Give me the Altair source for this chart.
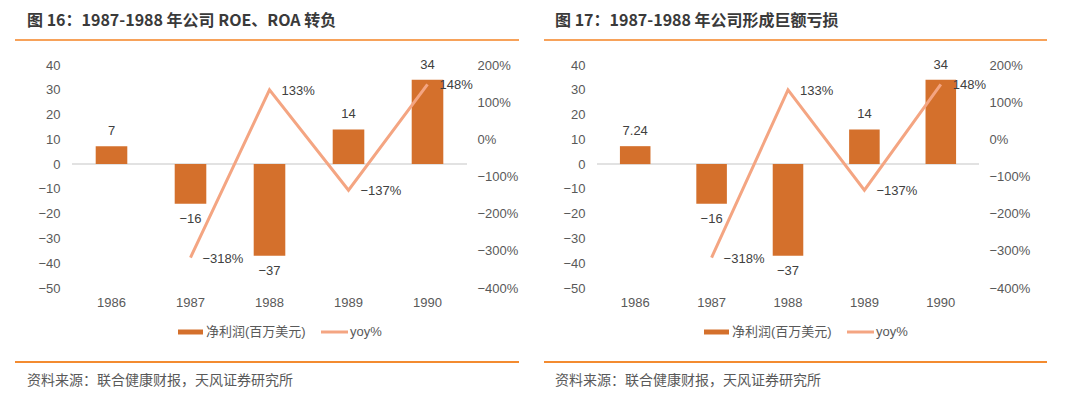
import altair as alt
import pandas as pd

# ---------------- data ----------------
YEARS = ["1986", "1987", "1988", "1989", "1990"]
PROFIT = [7.24, -16, -37, 14, 34]                 # 净利润(百万美元)
YOY_YEARS = ["1987", "1988", "1989", "1990"]
YOY = [-3.18, 1.33, -1.37, 1.48]                   # yoy%
TITLES = ["图 16：1987-1988 年公司 ROE、ROA 转负", "图 17：1987-1988 年公司形成巨额亏损"]
SOURCE = "资料来源：联合健康财报，天风证券研究所"
LEGEND_LABELS = ["净利润(百万美元)", "yoy%"]
LEFT_TICKS = [-50, -40, -30, -20, -10, 0, 10, 20, 30, 40]
RIGHT_TICKS = [-4, -3, -2, -1, 0, 1, 2]
BAR_LABEL_FORMATS = [".0f", "~g"]

BAR_COLOR = "#D4702C"
LINE_COLOR = "#F4A582"
TEXT_COLOR = "#404040"
AXIS_COLOR = "#595959"
NUM_FONT = "Liberation Sans, Noto Sans CJK SC"
CJK_FONT = "Noto Sans CJK SC"


def panel(idx, width, height, title_x, rule_x1, rule_x2, legend_x):
    bars_df = pd.DataFrame({"year": YEARS, "profit": PROFIT})
    yoy_df = pd.DataFrame({"year": YOY_YEARS, "yoy": YOY})

    x_scale = alt.Scale(domain=YEARS, paddingInner=0.6, paddingOuter=0.3)
    x_axis = alt.Axis(labelAngle=0, labelPadding=8, title=None)
    yl_scale = alt.Scale(domain=[-50, 40], nice=False, zero=False)
    yl_axis = alt.Axis(values=LEFT_TICKS, format="d", labelPadding=12, title=None)
    yr_scale = alt.Scale(domain=[-4, 2], nice=False, zero=False)
    yr_axis = alt.Axis(orient="right", values=RIGHT_TICKS, format=".0%",
                       labelPadding=10, title=None)

    def X():
        return alt.X("year:N", sort=YEARS, scale=x_scale, axis=x_axis)

    base_bar = alt.Chart(bars_df)
    zero_rule = base_bar.transform_filter("datum.year == '1986'").transform_calculate(
        z="0"
    ).mark_rule(color="#D9D9D9", strokeWidth=1.5).encode(
        y=alt.Y("z:Q", scale=yl_scale, axis=yl_axis)
    )
    bars = base_bar.mark_bar(color=BAR_COLOR).encode(
        x=X(),
        y=alt.Y("profit:Q", scale=yl_scale, axis=yl_axis),
    )
    pos_text = base_bar.transform_filter("datum.profit >= 0").mark_text(
        baseline="middle", dy=-15, font=NUM_FONT, fontSize=13, color=TEXT_COLOR
    ).encode(
        x=X(),
        y=alt.Y("profit:Q", scale=yl_scale, axis=yl_axis),
        text=alt.Text("profit:Q", format=BAR_LABEL_FORMATS[idx]),
    )
    neg_text = base_bar.transform_filter("datum.profit < 0").mark_text(
        baseline="middle", dy=15, font=NUM_FONT, fontSize=13, color=TEXT_COLOR
    ).encode(
        x=X(),
        y=alt.Y("profit:Q", scale=yl_scale, axis=yl_axis),
        text=alt.Text("profit:Q", format=BAR_LABEL_FORMATS[idx]),
    )
    bar_layer = alt.layer(zero_rule, bars, pos_text, neg_text)

    base_line = alt.Chart(yoy_df)
    line = base_line.mark_line(color=LINE_COLOR, strokeWidth=3).encode(
        x=X(),
        y=alt.Y("yoy:Q", scale=yr_scale, axis=yr_axis),
    )
    line_text = base_line.mark_text(
        align="left", baseline="middle", dx=12, dy=1, font=NUM_FONT, fontSize=13, color=TEXT_COLOR
    ).encode(
        x=X(),
        y=alt.Y("yoy:Q", scale=yr_scale, axis=yr_axis),
        text=alt.Text("yoy:Q", format=".0%"),
    )
    line_layer = alt.layer(line, line_text)

    one = pd.DataFrame({"t": [TITLES[idx]]})
    title = alt.Chart(one).mark_text(
        align="left", baseline="middle", font=CJK_FONT, fontSize=16, fontWeight="bold", color="#3A3A3A"
    ).encode(x=alt.value(title_x), y=alt.value(-44), text="t:N")
    top_rule = alt.Chart(one).mark_rule(color="#F7A25A", strokeWidth=2).encode(
        x=alt.value(rule_x1), x2=alt.value(rule_x2), y=alt.value(-25)
    )
    bottom_rule = alt.Chart(one).mark_rule(color="#F38B30", strokeWidth=2).encode(
        x=alt.value(rule_x1), x2=alt.value(rule_x2), y=alt.value(297)
    )
    src = pd.DataFrame({"t": [SOURCE]})
    source = alt.Chart(src).mark_text(
        align="left", baseline="middle", font=CJK_FONT, fontSize=14, color=AXIS_COLOR
    ).encode(x=alt.value(title_x), y=alt.value(316), text="t:N")

    leg1 = pd.DataFrame({"t": [LEGEND_LABELS[0]]})
    leg2 = pd.DataFrame({"t": [LEGEND_LABELS[1]]})
    sw1 = alt.Chart(leg1).mark_rect(color=BAR_COLOR).encode(
        x=alt.value(legend_x), x2=alt.value(legend_x + 25),
        y=alt.value(264.5), y2=alt.value(269.5)
    )
    lt1 = alt.Chart(leg1).mark_text(
        align="left", baseline="middle", font=NUM_FONT, fontSize=13, color=AXIS_COLOR
    ).encode(x=alt.value(legend_x + 28), y=alt.value(267), text="t:N")
    sw2 = alt.Chart(leg2).mark_rule(color=LINE_COLOR, strokeWidth=3).encode(
        x=alt.value(legend_x + 143), x2=alt.value(legend_x + 170), y=alt.value(267)
    )
    lt2 = alt.Chart(leg2).mark_text(
        align="left", baseline="middle", font=NUM_FONT, fontSize=13, color=AXIS_COLOR
    ).encode(x=alt.value(legend_x + 172), y=alt.value(267), text="t:N")

    return alt.layer(
        bar_layer, line_layer, title, top_rule, bottom_rule, source, sw1, lt1, sw2, lt2
    ).resolve_scale(y="independent").properties(width=width, height=height)


p1 = panel(0, 395, 223, -45, -57, 447, 106)
p2 = panel(1, 382, 223, -42, -53, 450, 107)

chart = alt.hconcat(p1, p2, spacing=130, bounds="flush").properties(
    padding={"left": 6, "top": 5, "right": 5, "bottom": 5}
).configure_view(stroke=None).configure_axis(
    labelFont="Liberation Sans", labelFontSize=13, labelColor=AXIS_COLOR,
    domain=False, ticks=False, grid=False, tickSize=0
)

chart.save("out.html", embed_options={"renderer": "svg", "actions": False})
